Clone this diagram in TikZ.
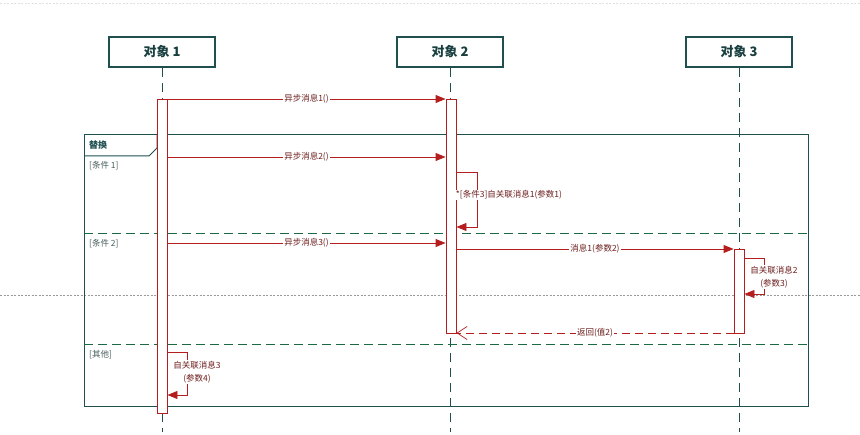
\documentclass[tikz,border=0pt]{standalone}
\usepackage{fontspec}
\setmainfont{Noto Sans CJK SC}
\usetikzlibrary{arrows.meta,calc}
\definecolor{tealdk}{HTML}{1F4F4F}
\definecolor{msgred}{HTML}{B41E1E}
\definecolor{lbl}{HTML}{6E1E1E}
\definecolor{guard}{HTML}{4A5E5E}
\tikzset{
  objbox/.style={draw=tealdk, line width=1.6pt, fill=white, minimum width=106pt, minimum height=30pt, inner sep=0pt, font=\fontsize{13}{15}\selectfont\bfseries, text=tealdk!80!black},
  lifeln/.style={draw=tealdk, line width=1pt, dash pattern=on 9pt off 6pt},
  actbox/.style={draw=msgred, line width=0.9pt, fill=white, minimum width=10pt, inner sep=0pt},
  frameln/.style={draw=tealdk, line width=1pt},
  sepln/.style={draw=tealdk!85!green, line width=1pt, dash pattern=on 9pt off 5pt},
  guardtxt/.style={font=\fontsize{8.5}{10}\selectfont, text=guard, anchor=west, inner sep=0pt},
  msgln/.style={draw=msgred, line width=0.9pt, -{Triangle[length=10pt,width=8pt]}},
  retln/.style={draw=msgred, line width=0.9pt, dash pattern=on 8pt off 5pt, -{Straight Barb[length=10pt,width=13pt,line width=0.7pt]}},
  msglbl/.style={font=\fontsize{8.5}{10}\selectfont, text=lbl, fill=white, inner sep=1pt},
  selflbl/.style={font=\fontsize{8.5}{12.5}\selectfont, text=lbl, fill=white, inner sep=1pt, align=center},
}
\begin{document}
\begin{tikzpicture}[x=1pt,y=-1pt]
\useasboundingbox (0,0) rectangle (860,435);
\fill[white] (0,0) rectangle (860,435);
% page-break guides
\draw[gray!25, line width=0.6pt, dash pattern=on 2pt off 1.5pt] (0,3) -- (860,3);
\draw[gray!80, line width=0.8pt, dash pattern=on 2pt off 1.5pt] (0,295) -- (860,295);
% objects
\node[objbox] (o1) at (162,52) {对象 1};
\node[objbox] (o2) at (450,52) {对象 2};
\node[objbox] (o3) at (739,52) {对象 3};
\coordinate (e1) at (162,432);
\coordinate (e2) at (450,432);
\coordinate (e3) at (739,432);
\draw[lifeln] (o1.south) -- (e1);
\draw[lifeln] (o2.south) -- (e2);
\draw[lifeln] (o3.south) -- (e3);
% combined fragment
\draw[frameln] (84,135) rectangle (808,407);
\draw[frameln] (84,156) -- (149,156) -- (157,148) -- (157,135);
\node[font=\fontsize{9}{10}\selectfont\bfseries, text=tealdk, anchor=west, inner sep=0pt] (alt) at (89,145) {替换};
\draw[sepln] (84,234) -- (808,234);
\draw[sepln] (84,345) -- (808,345);
\node[guardtxt] (g1) at (89,166) {[条件 1]};
\node[guardtxt] (g2) at (89,244) {[条件 2]};
\node[guardtxt] (g3) at (89,355) {[其他]};
% activations
\node[actbox, minimum height=314pt] (a1) at (162,256) {};
\node[actbox, minimum height=234pt] (a2) at (451,216) {};
\node[actbox, minimum height=84pt] (a3) at (739,291) {};
% messages
\draw[msgln] (a1.east |- 0,99) -- node[msglbl] {异步消息1()} (a2.west |- 0,99);
\draw[msgln] (a1.east |- 0,157) -- node[msglbl] {异步消息2()} (a2.west |- 0,157);
\draw[msgln] (a1.east |- 0,243) -- node[msglbl] {异步消息3()} (a2.west |- 0,243);
\draw[msgln] (a2.east |- 0,249) -- node[msglbl] {消息1(参数2)} (a3.west |- 0,249);
\draw[retln] (a3.west |- 0,333) -- node[msglbl] {返回(值2)} (a2.east |- 0,333);
% self messages
\coordinate (s1a) at (477,172);
\coordinate (s1b) at (477,227);
\draw[msgln] (a2.east |- s1a) -- (s1a) -- (s1b) -- (a2.east |- s1b);
\node[selflbl] (l1) at (509,195) {*[条件3]自关联消息1(参数1)};
\coordinate (s2a) at (764,258);
\coordinate (s2b) at (764,294);
\draw[msgln] (a3.east |- s2a) -- (s2a) -- (s2b) -- (a3.east |- s2b);
\node[selflbl] (l2) at (774,277) {自关联消息2\\(参数3)};
\coordinate (s3a) at (187,352);
\coordinate (s3b) at (187,395);
\draw[msgln] (a1.east |- s3a) -- (s3a) -- (s3b) -- (a1.east |- s3b);
\node[selflbl] (l3) at (197,372) {自关联消息3\\(参数4)};
\end{tikzpicture}
\end{document}
